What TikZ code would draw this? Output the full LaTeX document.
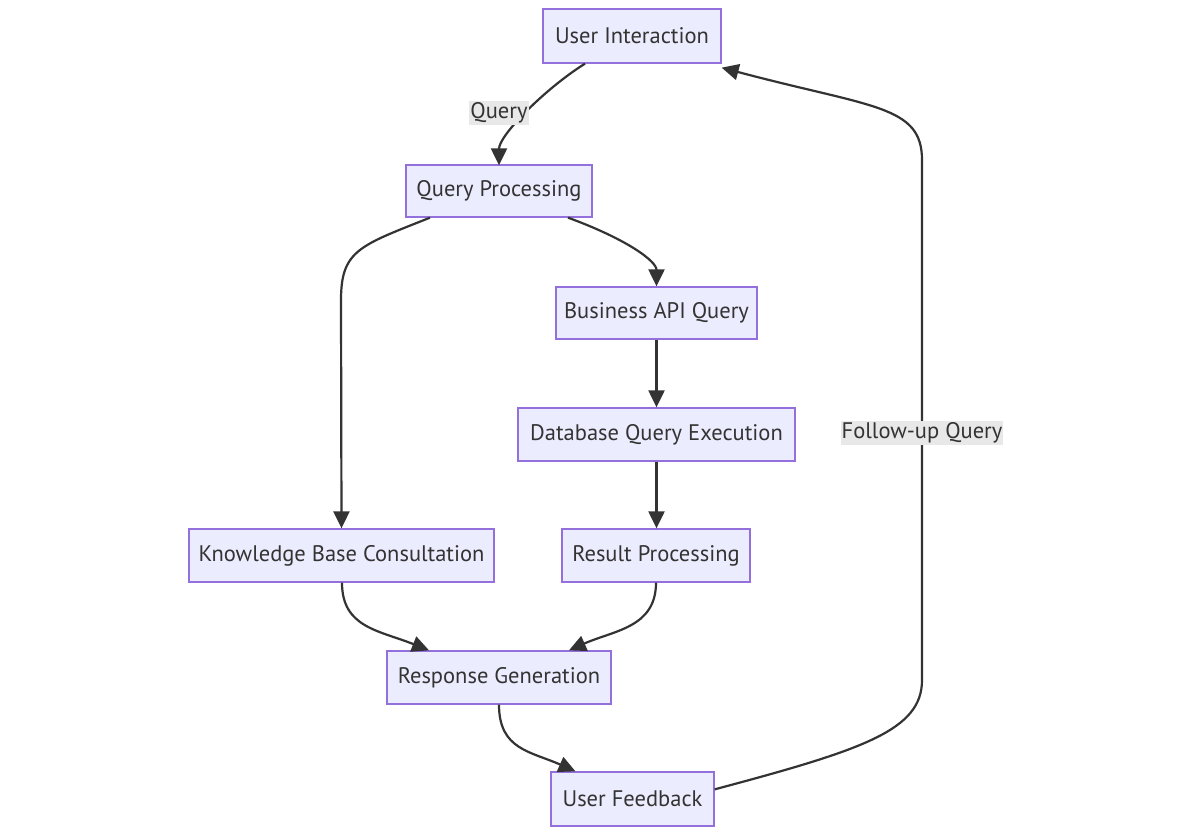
\documentclass[tikz,border=0pt]{standalone}
\usepackage{fontspec}
\setmainfont{PT Sans}
\usetikzlibrary{arrows.meta}
\definecolor{nodefill}{HTML}{ECECFF}
\definecolor{nodeline}{HTML}{9370DB}
\definecolor{edge}{HTML}{333333}
\definecolor{lblbg}{HTML}{E8E8E8}
\tikzset{
  box/.style={draw=nodeline, fill=nodefill, line width=1.3pt, inner sep=0pt, text=edge,
    font=\fontsize{22.5}{26}\selectfont},
  conn/.style={draw=edge, line width=2.2pt, -{Triangle[length=17pt,width=16pt]}},
  lbl/.style={fill=lblbg, text=edge, inner xsep=1pt, inner ysep=2pt, font=\fontsize{22.5}{26}\selectfont},
}
\begin{document}
\begin{tikzpicture}[x=1pt,y=-1pt]
\useasboundingbox (0,0) rectangle (1192,837);
\fill[white] (0,0) rectangle (1192,837);
\node[box, minimum width=178pt, minimum height=54pt] (ui) at (632,36) {User Interaction};
\node[box, minimum width=186pt, minimum height=52pt] (qp) at (499,191) {Query Processing};
\node[box, minimum width=201pt, minimum height=52pt] (api) at (656.5,313) {Business API Query};
\node[box, minimum width=277pt, minimum height=53pt] (db) at (656.5,434.5) {Database Query Execution};
\node[box, minimum width=305pt, minimum height=53pt] (kb) at (341.5,555.5) {Knowledge Base Consultation};
\node[box, minimum width=188pt, minimum height=53pt] (rp) at (656,555.5) {Result Processing};
\node[box, minimum width=224pt, minimum height=53pt] (rg) at (499,677.5) {Response Generation};
\node[box, minimum width=163pt, minimum height=54pt] (uf) at (632.5,799) {User Feedback};

\coordinate (qlab) at (499,113);
\coordinate (flab) at (922,433);

\draw[conn] ([xshift=-47pt]ui.south) .. controls +(-40,25) and +(0,-30) .. ([yshift=-1pt]qp.north);
\draw[conn] ([xshift=-69pt]qp.south) .. controls +(-70,28) and +(0,-50) .. (341,300) -- (kb.north);
\draw[conn] ([xshift=69pt]qp.south) .. controls +(60,22) and +(0,-25) .. (api.north);
\draw[conn] (api.south) -- (db.north);
\draw[conn] (db.south) -- ([xshift=0.5pt]rp.north);
\draw[conn] ([xshift=0.5pt]kb.south) .. controls +(0,45) and +(-50,-20) .. ([xshift=-70pt]rg.north);
\draw[conn] (rp.south) .. controls +(0,45) and +(45,-20) .. ([xshift=70pt]rg.north);
\draw[conn] (rg.south) .. controls +(0,45) and +(-45,-20) .. ([xshift=-57pt]uf.north);
\draw[conn] ([yshift=-18pt]uf.north east) .. controls +(150,-40) and +(0,50) .. (922,680) -- (922,160)
  .. controls +(0,-55) and +(150,40) .. ([yshift=-4pt]ui.south east);

\node[lbl] (ql) at (qlab) {Query};
\node[lbl] (fl) at (flab) {Follow-up Query};
\end{tikzpicture}
\end{document}
